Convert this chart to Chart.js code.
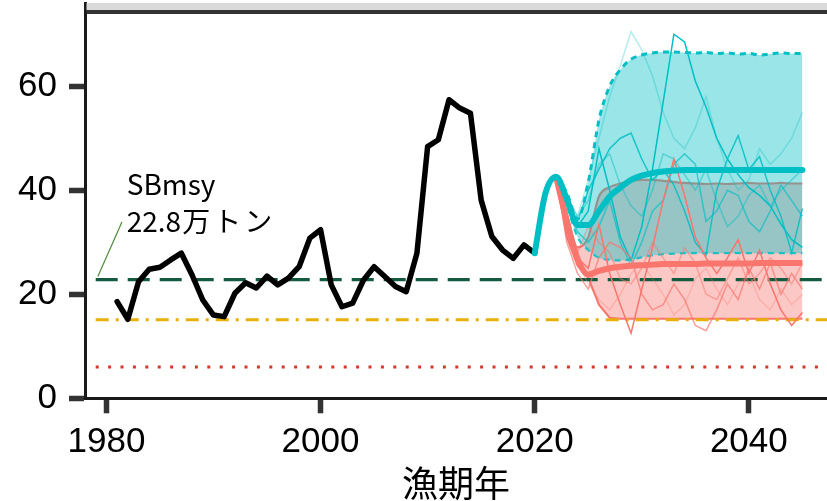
<!DOCTYPE html>
<html><head><meta charset="utf-8">
<script src="https://cdn.jsdelivr.net/npm/chart.js@4.4.1/dist/chart.umd.min.js"></script>
<style>html,body{margin:0;padding:0;background:#fff;overflow:hidden}#wrap{width:827px;height:501px;position:relative}</style>
</head><body><div id="wrap"><canvas id="c" width="827" height="501"></canvas></div>
<script>
// ---------- data ----------
const histYears = [1981,1982,1983,1984,1985,1986,1987,1988,1989,1990,1991,1992,1993,1994,1995,1996,1997,1998,1999,2000,2001,2002,2003,2004,2005,2006,2007,2008,2009,2010,2011,2012,2013,2014,2015,2016,2017,2018,2019,2020];
const histValues = [18.6,15.2,22.4,24.8,25.2,26.6,27.9,23.7,18.9,16.0,15.7,20.2,22.2,21.2,23.5,21.8,23.1,25.3,30.8,32.4,21.8,17.6,18.3,22.7,25.3,23.4,21.5,20.5,27.9,48.4,49.7,57.4,55.8,54.8,38.1,31.1,28.5,26.9,29.5,27.9];

const medYears = [2020,2021,2022,2023,2024,2025,2026,2027,2028,2029,2030,2031,2032,2033,2034,2035,2036,2037,2038,2039,2040,2041,2042,2043,2044,2045];
const cyanMedian = [27.9,39.4,42.6,38.3,33.3,33.3,36.0,38.8,40.5,42.0,42.8,43.3,43.6,43.8,43.9,43.9,43.9,43.9,43.9,43.9,43.9,43.9,43.9,43.9,43.9,43.9];

const projYears = [2022,2023,2024,2025,2026,2027,2028,2029,2030,2031,2032,2033,2034,2035,2036,2037,2038,2039,2040,2041,2042,2043,2044,2045];
const cyanUpper = [42.6,39.5,34.5,41.5,53.5,60.0,63.2,65.2,66.0,66.4,66.6,66.6,66.5,66.4,66.5,66.3,66.4,66.2,66.3,66.0,66.2,66.4,66.3,66.3];
const cyanLower = [42.6,37.0,31.0,28.5,27.0,26.6,26.5,26.7,27.1,27.5,27.7,27.8,27.9,27.9,27.9,27.9,27.9,27.9,27.9,27.9,27.9,27.9,27.9,27.9];
const redMedian = [42.6,34.0,26.8,23.8,24.5,25.0,25.3,25.5,25.6,25.7,25.8,25.8,25.8,25.8,25.9,25.9,25.9,25.9,25.9,26.0,26.0,26.0,26.0,26.0];
const redUpper = [42.6,35.5,29.0,31.0,38.8,40.6,41.3,41.8,42.0,42.0,41.8,41.6,41.4,41.3,41.2,41.3,41.2,41.3,41.4,41.3,41.3,41.4,41.3,41.3];
const redLower = [42.6,31.0,25.5,23.2,18.0,15.5,15.3,15.3,15.3,15.3,15.3,15.3,15.3,15.3,15.3,15.3,15.3,15.3,15.3,15.3,15.3,15.3,15.3,15.3];

const cyanSimA = [42.6,38.0,33.0,36.0,48.0,40.0,31.0,26.5,33.0,44.0,57.0,70.0,68.5,61.0,56.0,50.0,46.0,43.0,40.5,39.0,37.0,33.5,30.5,29.0];
const cyanSimB = [42.6,38.0,34.0,40.0,44.0,48.0,50.0,51.0,46.0,42.0,44.0,41.0,36.0,30.0,27.5,40.0,46.0,50.5,44.0,46.5,40.0,35.0,28.0,36.5];
const cyanSimC = [42.6,39.0,35.0,42.0,50.0,58.0,64.0,70.5,67.0,62.0,55.0,50.0,48.0,52.0,58.0,50.0,44.0,40.0,42.0,48.0,45.0,47.0,50.0,55.0];
const cyanSimD = [42.6,37.0,32.0,30.0,33.0,38.0,30.0,25.5,30.0,36.0,38.0,45.0,47.0,45.0,34.0,36.0,40.0,39.0,34.0,32.0,36.0,41.0,38.0,35.0];
const cyanSimE = [42.6,38.0,35.0,38.0,45.0,47.0,41.0,37.0,35.0,40.0,47.0,46.0,43.0,40.0,44.0,38.0,33.0,35.0,39.0,41.0,37.0,40.0,42.0,44.0];

const redSimA = [42.6,33.0,27.0,25.0,33.5,24.0,18.0,12.5,21.0,29.0,38.0,46.0,39.0,31.0,27.0,24.0,27.0,30.5,24.0,28.5,22.0,17.0,14.0,16.5];
const redSimB = [42.6,30.0,24.0,21.0,27.0,30.0,29.0,27.0,20.0,17.0,18.0,22.0,19.0,14.0,13.0,17.0,22.0,19.0,25.0,21.0,26.0,20.0,24.0,21.0];
const redSimC = [42.6,32.0,28.0,33.0,30.0,28.0,23.0,22.0,25.0,30.0,27.0,24.0,29.0,26.0,20.0,19.0,23.0,27.0,22.0,24.0,27.0,25.0,22.0,26.0];
const redSimD = [42.6,34.0,26.0,22.0,19.0,17.0,20.0,24.0,26.0,23.0,20.0,16.0,18.0,23.0,25.0,21.0,18.0,22.0,24.0,19.0,17.0,21.0,18.0,20.0];

const refValues = [22.8, 15.1, 6.0];      // SBmsy, SBlimit, SBban
const refSpan = [1979, 2048];
const xTicks = [1980, 2000, 2020, 2040];
const yTicks = [0, 20, 40, 60];

// ---------- helpers ----------
const pts = (xs, ys) => xs.map((x, i) => ({x: x, y: ys[i]}));
const CY = 'rgb(0,191,196)', RD = 'rgb(248,118,109)';
const cyA = a => `rgba(0,191,196,${a})`, rdA = a => `rgba(248,118,109,${a})`;
const base = {pointRadius: 0, pointHoverRadius: 0, tension: 0, fill: false};

const ds = [];
// red band (bottom)
ds.push({...base, data: pts(projYears, redLower), borderColor: RD, borderWidth: 2, order: 60});
ds.push({...base, data: pts(projYears, redUpper), borderColor: RD, borderWidth: 2.2, cubicInterpolationMode: 'monotone',
  fill: '-1', backgroundColor: rdA(0.4), order: 59});
// cyan band
ds.push({...base, data: pts(projYears, cyanLower), borderColor: cyA(0.85), borderWidth: 2.2, borderDash: [6, 5], cubicInterpolationMode: 'monotone', order: 50});
ds.push({...base, data: pts(projYears, cyanUpper), borderColor: CY, borderWidth: 3, borderDash: [6, 5], cubicInterpolationMode: 'monotone',
  fill: '-1', backgroundColor: cyA(0.4), order: 49});
// reference lines
ds.push({...base, data: pts(refSpan, [refValues[0], refValues[0]]), borderColor: '#135a3e', borderWidth: 3.2, borderDash: [22, 10], order: 40});
ds.push({...base, data: pts(refSpan, [refValues[1], refValues[1]]), borderColor: '#e8b00c', borderWidth: 3, borderDash: [13, 7, 3, 7], order: 40});
ds.push({...base, data: pts(refSpan, [refValues[2], refValues[2]]), borderColor: '#d2392c', borderWidth: 3, borderDash: [3, 9.4], order: 40});
// simulated trajectories
[[cyanSimC, 0.3], [cyanSimE, 0.45], [cyanSimD, 0.65], [cyanSimB, 0.85], [cyanSimA, 1]].forEach((s, i) =>
  ds.push({...base, data: pts(projYears, s[0]), borderColor: cyA(s[1]), borderWidth: 1.5, order: 30 - i}));
[[redSimD, 0.3], [redSimC, 0.5], [redSimB, 0.7], [redSimA, 1]].forEach((s, i) =>
  ds.push({...base, data: pts(projYears, s[0]), borderColor: rdA(s[1]), borderWidth: 1.5, order: 20 - i}));
// medians and history
ds.push({...base, data: pts(projYears, redMedian), borderColor: RD, borderWidth: 6, cubicInterpolationMode: 'monotone', order: 3});
ds.push({...base, data: pts(histYears, histValues), borderColor: '#000', borderWidth: 5.5, borderJoinStyle: 'round', borderCapStyle: 'round', order: 2});
ds.push({...base, data: pts(medYears, cyanMedian), borderColor: CY, borderWidth: 6, cubicInterpolationMode: 'monotone', borderCapStyle: 'round', order: 1});

const annot = {
  id: 'annot',
  afterDraw(chart) {
    const {ctx, chartArea, scales: {x, y}} = chart;
    ctx.save();
    ctx.fillStyle = '#d9d9d9';
    ctx.fillRect(chartArea.left + 1.5, 3, chart.width - chartArea.left, 7);
    ctx.fillStyle = '#333333';
    ctx.fillRect(chartArea.left + 1.5, 10, chart.width - chartArea.left, 4);
    ctx.strokeStyle = '#4e8c3c';
    ctx.lineWidth = 1.2;
    ctx.beginPath();
    ctx.moveTo(x.getPixelForValue(1979.2), y.getPixelForValue(23.4));
    ctx.lineTo(x.getPixelForValue(1981.45), y.getPixelForValue(33.9));
    ctx.stroke();
    ctx.fillStyle = '#000';
    ctx.font = '28px "Noto Sans CJK JP"';
    ctx.textAlign = 'left';
    ctx.textBaseline = 'alphabetic';
    const tx = x.getPixelForValue(1981.9);
    ctx.fillText('SBmsy', tx, y.getPixelForValue(39.1));
    const by = y.getPixelForValue(32.0);
    ctx.fillText('22.8', tx, by);
    const w = ctx.measureText('22.8').width;
    ctx.letterSpacing = '3px';
    ctx.fillText('万トン', tx + w + 1, by);
    ctx.restore();
  }
};

new Chart(document.getElementById('c'), {
  type: 'line',
  data: {datasets: ds},
  options: {
    responsive: false,
    animation: false,
    events: [],
    layout: {padding: {left: 0, right: 0, top: 3, bottom: 0}},
    plugins: {legend: {display: false}, tooltip: {enabled: false}},
    scales: {
      x: {
        type: 'linear', min: 1978, max: 2047.3,
        afterBuildTicks: s => { s.ticks = xTicks.map(v => ({value: v})); },
        afterFit: s => { s.height = 102.7; s.paddingLeft = 0; s.paddingRight = 0; s.paddingTop = 0; s.paddingBottom = 0; },
        grid: {drawOnChartArea: false, drawTicks: true, tickLength: 15, tickWidth: 5.5, tickColor: '#333333'},
        border: {display: true, color: '#1a1a1a', width: 3},
        ticks: {color: '#000', padding: 8, maxRotation: 0, autoSkip: false,
          font: {family: '"Liberation Sans", Arial, sans-serif', size: 35},
          callback: v => String(v)},
        title: {display: true, text: '漁期年', color: '#000', padding: {top: 0, bottom: 0},
          font: {family: '"Noto Sans CJK JP"', size: 36, lineHeight: 1}}
      },
      y: {
        type: 'linear', min: 0, max: 76,
        afterBuildTicks: s => { s.ticks = yTicks.map(v => ({value: v})); },
        afterFit: s => { s.width = 85; s.paddingLeft = 0; s.paddingRight = 0; s.paddingTop = 0; s.paddingBottom = 0; },
        grid: {drawOnChartArea: false, drawTicks: true, tickLength: 16, tickWidth: 5.5, tickColor: '#333333'},
        border: {display: true, color: '#1a1a1a', width: 3},
        ticks: {color: '#000', padding: 12, autoSkip: false,
          font: {family: '"Liberation Sans", Arial, sans-serif', size: 35},
          callback: v => String(v)}
      }
    }
  },
  plugins: [annot]
});
</script></body></html>
